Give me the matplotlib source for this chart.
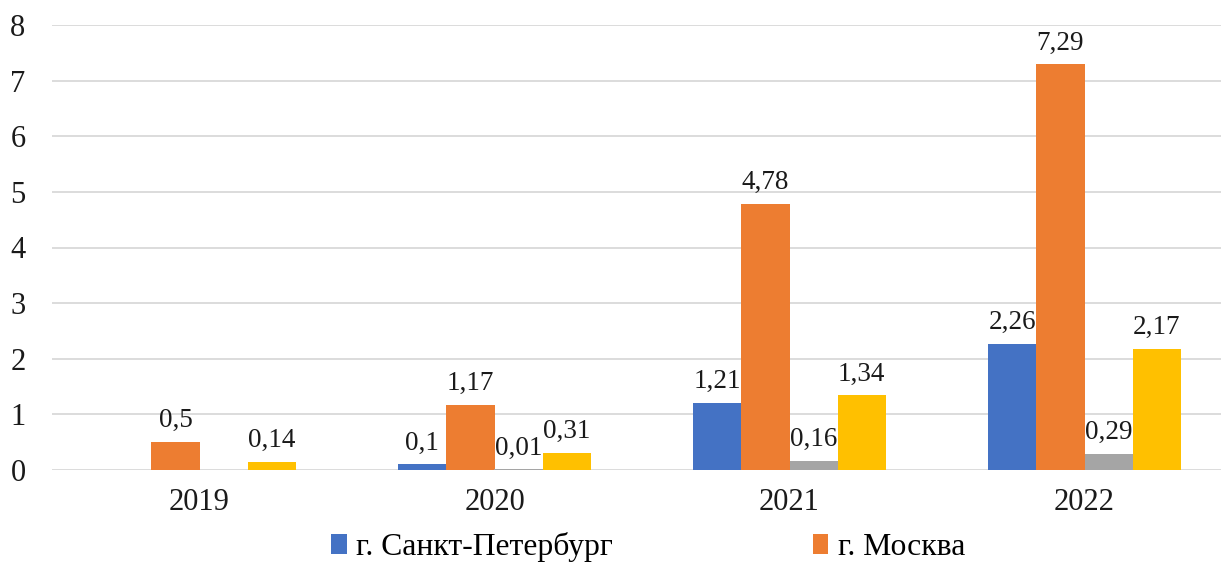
import matplotlib.pyplot as plt
import numpy as np

plt.rcParams['font.family'] = ['Liberation Serif', 'DejaVu Serif']

years = ['2019', '2020', '2021', '2022']
spb = [0, 0.1, 1.21, 2.26]
moscow = [0.5, 1.17, 4.78, 7.29]
other = [0, 0.01, 0.16, 0.29]
total = [0.14, 0.31, 1.34, 2.17]
# which bars get a value label (zero bars in 2019 have none)
show_spb = [False, True, True, True]
show_other = [False, True, True, True]

series = [
    (spb, show_spb, '#4472C4', 'г. Санкт-Петербург'),
    (moscow, [True] * 4, '#ED7D31', 'г. Москва'),
    (other, show_other, '#A5A5A5', None),
    (total, [True] * 4, '#FFC000', None),
]

fig = plt.figure(figsize=(12.21, 5.63), dpi=100)
ax = fig.add_axes([52 / 1221, 93 / 563, 1180 / 1221, 445 / 563])

x = np.arange(len(years))
w = 0.163
handles = []
for i, (vals, show, col, lab) in enumerate(series):
    bars = ax.bar(x + (i - 1.5) * w, vals, w, color=col, label=lab, zorder=3)
    if lab:
        handles.append(bars)
    for b, v, s in zip(bars, vals, show):
        if not s:
            continue
        ax.annotate(f'{v:g}'.replace('.', ','), (b.get_x() + b.get_width() / 2, v),
                    xytext=(0, 6.5), textcoords='offset points',
                    ha='center', va='bottom', fontsize=19.5, color='#1a1a1a')

ax.set_xlim(-0.5, 3.5)
ax.set_ylim(0, 8)
ax.set_yticks(range(0, 9))
ax.set_xticks(x, years)
ax.yaxis.grid(True, color='#D9D9D9', linewidth=1.3, zorder=0)
ax.set_axisbelow(True)
for s in ax.spines.values():
    s.set_visible(False)
ax.tick_params(axis='y', length=0, pad=19, labelsize=22, labelcolor='#1a1a1a')
ax.tick_params(axis='x', length=0, pad=13, labelsize=22, labelcolor='#1a1a1a')

fig.legend(handles=handles, loc='center', bbox_to_anchor=(648 / 1221, 16 / 563),
           ncol=2, frameon=False, fontsize=22.8, handlelength=0.5, handleheight=0.6,
           handletextpad=0.3, columnspacing=6.3, borderaxespad=0)

fig.savefig('out.png', dpi=100)
